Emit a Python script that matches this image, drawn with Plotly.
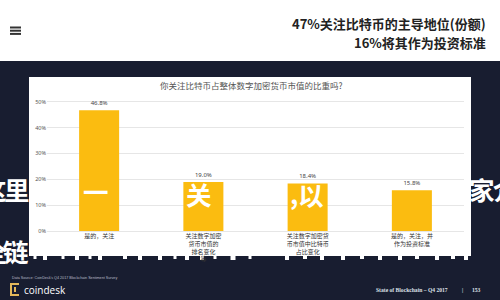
import plotly.graph_objects as go

# ---- data ----
categories = [
    "是的，关注",
    "关注数字加密<br>货币市值的<br>排名变化<br>等",
    "关注数字加密货<br>币市值中比特币<br>占比变化",
    "是的，关注，并<br>作为投资标准",
]
values = [46.8, 19.0, 18.4, 15.8]
value_labels = ["46.8%", "19.0%", "18.4%", "15.8%"]
y_ticks = [0, 10, 20, 30, 40, 50]
y_tick_labels = ["0%", "10%", "20%", "30%", "40%", "50%"]

chart_title = "你关注比特币占整体数字加密货币市值的比重吗?"
headline_1 = "47%关注比特币的主导地位(份额)"
headline_2 = "16%将其作为投资标准"

# ---- layout helpers (pixel -> paper) ----
W, H = 500, 300
L, R, T, B = 47, 36, 89, 69
def px(X):
    return (X - L) / (W - L - R)
def py(Y):
    return (H - B - Y) / (H - T - B)

NAVY = "#181d30"
GOLD = "#FBBC10"
CJK = "Noto Sans CJK SC"

fig = go.Figure(go.Bar(
    x=categories, y=values, text=value_labels,
    textposition="outside", cliponaxis=False,
    textfont=dict(size=6, color="#444", family="Noto Sans"),
    marker=dict(color=GOLD, line=dict(width=0)),
    hoverinfo="skip",
))

shapes = [
    dict(type="rect", xref="paper", yref="paper", layer="below",
         x0=px(-5), x1=px(W + 5), y0=py(H + 5), y1=py(61),
         fillcolor=NAVY, line=dict(width=0)),
    dict(type="rect", xref="paper", yref="paper", layer="below",
         x0=px(29), x1=px(471), y0=py(256), y1=py(77),
         fillcolor="#ffffff", line=dict(width=0)),
]
# torn lower edge of the white card (small drips)
drips = [(35, 3, 259), (45, 4, 260), (63, 3, 259), (77, 4, 260), (90, 3, 259), (100, 4, 260),
         (125, 4, 259), (140, 4, 260), (160, 4, 260), (175, 3, 259), (187, 4, 260), (202, 4, 260),
         (215, 3, 259), (233, 5, 260), (250, 3, 259), (287, 4, 260), (305, 4, 259), (322, 4, 260),
         (343, 4, 260), (362, 4, 259), (380, 4, 260), (400, 4, 260), (417, 4, 259), (437, 4, 260),
         (453, 4, 259), (466, 4, 260)]
for cx, w, yb in drips:
    shapes.append(dict(type="rect", xref="paper", yref="paper", layer="below",
                       x0=px(cx - w / 2), x1=px(cx + w / 2), y0=py(yb), y1=py(255),
                       fillcolor="#ffffff", line=dict(width=0)))
for yy in (27.5, 30.7, 33.9):
    shapes.append(dict(type="line", xref="paper", yref="paper",
                       x0=px(10), x1=px(21), y0=py(yy), y1=py(yy),
                       line=dict(color="#333", width=2)))
shapes.append(dict(type="path", xref="paper", yref="paper",
                   path=f"M {px(19)},{py(284)} L {px(11)},{py(284)} L {px(11)},{py(295)} L {px(19)},{py(295)}",
                   line=dict(color="#e3b85a", width=2)))
shapes.append(dict(type="line", xref="paper", yref="paper",
                   x0=px(15), x1=px(15), y0=py(287), y1=py(292),
                   line=dict(color="#e3b85a", width=2)))

def ann(text, X, Y, size, color, xanchor="center", family=CJK, weight="normal", yanchor="middle"):
    return dict(text=text, xref="paper", yref="paper", x=px(X), y=py(Y),
                xanchor=xanchor, yanchor=yanchor, showarrow=False,
                font=dict(size=size, color=color, family=family, weight=weight))

# overlay glyphs (white brush text) that show on the dark panel and on the bars
overlay = [("这", -6.5, 188), ("里", 17, 188), ("一", 95.5, 190), ("关", 199, 193),
           (",", 294, 192), ("以", 311, 193), ("家", 482, 188), ("介", 506, 188),
           ("全", -5.5, 250), ("链", 16, 250)]

annotations = [
    ann(headline_1, 488, 23, 13, "#222", xanchor="right", weight="bold"),
    ann(headline_2, 488, 42, 13, "#222", xanchor="right", weight="bold"),
    ann(chart_title, 251, 85, 8.5, "#555"),
    ann("Data Source: CoinDesk's Q4 2017 Blockchain Sentiment Survey", 10, 278, 3.7, "#b8bcc8",
        xanchor="left", family="Liberation Sans"),
    ann("coindesk", 22, 290, 10, "white", xanchor="left", family="Open Sans"),
    ann("State of Blockchain – Q4 2017", 450, 290, 5.6, "#dde0e8", xanchor="right",
        family="Liberation Serif", weight="bold"),
    ann("|", 462, 290, 5.6, "#dde0e8", family="Liberation Serif", weight="bold"),
    ann("153", 470, 290, 5.6, "#dde0e8", xanchor="left", family="Liberation Serif", weight="bold"),
]
for ch, X, Y in overlay:
    annotations.append(ann(ch, X, Y, 25.5, "#ffffff", weight="bold"))

fig.update_layout(
    width=W, height=H,
    margin=dict(l=L, r=R, t=T, b=B, pad=0),
    paper_bgcolor="white", plot_bgcolor="rgba(0,0,0,0)",
    showlegend=False, bargap=0.616,
    shapes=shapes, annotations=annotations,
    xaxis=dict(showgrid=False, showline=False, ticks="", zeroline=False, automargin=False,
               tickfont=dict(size=6, color="#333", family=CJK), fixedrange=True),
    yaxis=dict(range=[0, 55], tickvals=y_ticks, ticktext=y_tick_labels, automargin=False,
               showgrid=True, gridcolor="#e6e6e6", gridwidth=1,
               zeroline=True, zerolinecolor="#e6e6e6", zerolinewidth=1,
               showline=False, ticks="", tickfont=dict(size=5.5, color="#555", family="Noto Sans"),
               fixedrange=True),
)

fig.write_html("out.html", config={"displayModeBar": False},
               post_script="document.body.style.margin='0';document.body.style.padding='0';")
